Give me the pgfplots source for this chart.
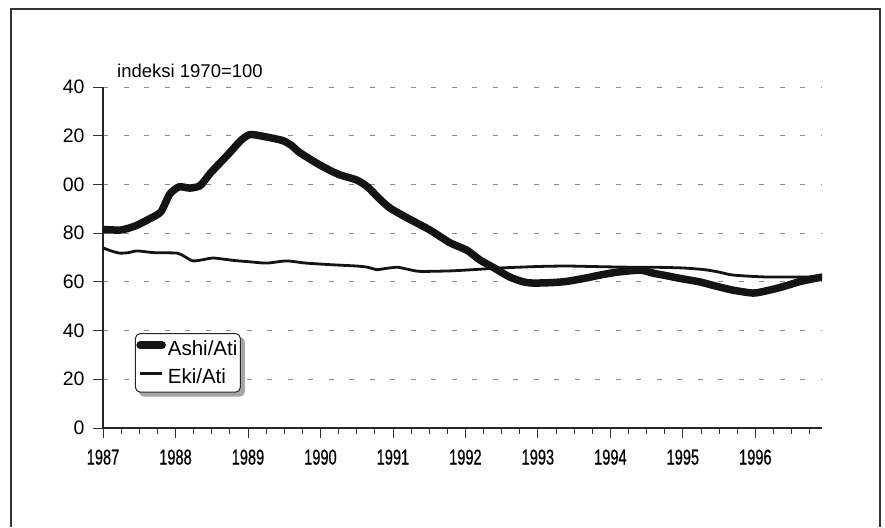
\documentclass[border=0pt]{standalone}
\usepackage{fontspec}
\setmainfont{Liberation Sans}
\newfontfamily\narrowfont[FakeStretch=0.68,FakeBold=0.6]{Liberation Sans}
\usepackage{pgfplots}
\pgfplotsset{compat=1.18}
\usetikzlibrary{backgrounds}
\begin{document}
\begin{tikzpicture}[x=1pt,y=1pt]
\path[use as bounding box] (0,0) rectangle (885,527);
\draw[line width=1.6pt, black!80] (11,0) -- (11,518) -- (880,518) -- (880,0);
\node[anchor=west, font=\fontsize{18.5}{20}\selectfont, inner sep=0pt] at (117,456) {indeksi 1970=100};
\begin{axis}[
  at={(103pt,99pt)}, anchor=south west,
  scale only axis, width=719pt, height=341pt,
  xmin=1987, xmax=1996.92, ymin=0, ymax=140,
  axis x line*=bottom, axis y line*=left,
  axis line style={line width=1.1pt, black!85, -},
  xtick={1987,1988,...,1996},
  minor xtick={1987.25,1987.5,...,1996.9},
  ytick={0,20,40,60,80,100,120,140},
  yticklabels={0,20,40,60,80,00,20,40},
  xticklabels={1987,1988,1989,1990,1991,1992,1993,1994,1995,1996},
  tick align=outside,
  major tick length=10pt, minor tick length=6pt,
  tick style={line width=0.8pt, black!80},
  /pgf/number format/assume math mode=true,
  yticklabel style={font=\fontsize{19.5}{20}\selectfont, xshift=-5pt},
  xticklabel style={font=\narrowfont\fontsize{21.5}{22}\selectfont, yshift=-8pt},
  ymajorgrids,
  grid style={black!45, line width=0.8pt, dash pattern=on 5pt off 15.5pt},
  legend style={name=leg, at={(axis cs:1987.44,39)}, anchor=north west,
    draw=black!85, line width=1pt, rounded corners=5pt, fill=white,
    font=\fontsize{20.5}{22}\selectfont, inner xsep=1pt, inner ysep=5pt,
    row sep=8pt},
  legend cell align=left,
  legend image code/.code={\draw[#1, sharp corners] (0pt,3.5pt) -- (22pt,3.5pt);},
]
\addplot[line width=7.5pt, black!92, smooth, tension=0.4, line join=round, line cap=round] coordinates {
(1987.00,81.5) (1987.25,81.3) (1987.45,83) (1987.65,86) (1987.8,88.8)
(1987.92,96) (1988.05,99) (1988.2,98.5) (1988.34,99.5) (1988.48,104.6)
(1988.62,109) (1988.76,113.4) (1988.9,118) (1989.03,120.5) (1989.25,119.5)
(1989.48,118) (1989.6,116) (1989.7,113.4) (1989.85,110.5) (1989.99,108)
(1990.15,105.5) (1990.27,103.9) (1990.5,101.8) (1990.65,99) (1990.8,94.5)
(1990.96,90.3) (1991.2,86.2) (1991.51,81.3) (1991.79,76) (1992.02,73)
(1992.2,69) (1992.38,66) (1992.61,62) (1992.8,60) (1992.93,59.5)
(1993.2,59.7) (1993.4,60.2) (1993.65,61.5) (1993.86,62.8) (1994.1,64)
(1994.41,64.8) (1994.6,63.5) (1994.78,62.5) (1995.0,61.2) (1995.23,60)
(1995.45,58.3) (1995.69,56.6) (1995.97,55.4) (1996.15,56.3) (1996.38,58)
(1996.6,60) (1996.8,61.3) (1996.93,62)
};
\addlegendentry{Ashi/Ati}
\addplot[line width=2.8pt, black!92, smooth, tension=0.4, line join=round] coordinates {
(1987.00,74) (1987.1,72.8) (1987.23,71.8) (1987.35,72) (1987.47,72.7)
(1987.7,72) (1988.02,71.8) (1988.12,70.5) (1988.24,68.6) (1988.4,69.2)
(1988.52,69.8) (1988.8,68.8) (1989.0,68.3) (1989.26,67.7) (1989.53,68.6)
(1989.8,67.7) (1990.17,67) (1990.5,66.5) (1990.65,66.0) (1990.78,65)
(1990.9,65.5) (1991.06,66) (1991.2,65.2) (1991.37,64.3) (1991.79,64.5)
(1992.1,65) (1992.48,65.7) (1993.0,66.3) (1993.4,66.5) (1993.9,66.2)
(1994.31,66) (1994.6,66) (1995.0,65.7) (1995.3,65) (1995.5,64)
(1995.69,62.8) (1996.16,62) (1996.93,62)
};
\addlegendentry{Eki/Ati}
\end{axis}
\begin{scope}[on background layer]
\fill[black!35, rounded corners=5pt] ([shift={(4pt,-4pt)}]leg.south west) rectangle ([shift={(4pt,-4pt)}]leg.north east);
\end{scope}
\end{tikzpicture}
\end{document}
